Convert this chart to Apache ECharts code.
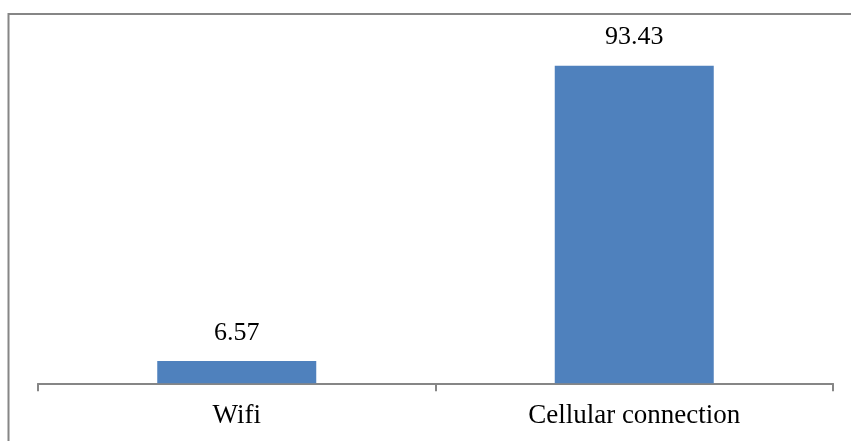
<!DOCTYPE html>
<html>
<head>
<meta charset="utf-8">
<script src="https://cdn.jsdelivr.net/npm/echarts@6/dist/echarts.min.js"></script>
<style>
html,body{margin:0;padding:0;background:#fff;}
#chart{width:851px;height:441px;}
</style>
</head>
<body>
<div id="chart"></div>
<script>
var categories = ['Wifi', 'Cellular connection'];
var values = [6.57, 93.43];

var chart = echarts.init(document.getElementById('chart'), null, {renderer: 'canvas'});
chart.setOption({
  animation: false,
  backgroundColor: '#ffffff',
  graphic: [{
    type: 'rect',
    silent: true,
    shape: {x: 8.5, y: 14, width: 900, height: 500},
    style: {fill: 'none', stroke: '#868686', lineWidth: 2}
  }],
  grid: {left: 38, right: 18, top: 43.3, bottom: 57.7},
  xAxis: {
    type: 'category',
    data: categories,
    boundaryGap: true,
    axisLine: {show: true, lineStyle: {color: '#868686', width: 2}},
    axisTick: {show: true, alignWithLabel: false, length: 8, lineStyle: {color: '#868686', width: 2}},
    axisLabel: {color: '#000', fontFamily: 'Liberation Serif', fontSize: 27, margin: 19}
  },
  yAxis: {
    type: 'value',
    min: 0,
    max: 100,
    show: false,
    splitLine: {show: false}
  },
  series: [{
    type: 'bar',
    data: values,
    barWidth: '40%',
    itemStyle: {color: '#4F81BD'},
    label: {
      show: true,
      position: 'top',
      distance: 15,
      color: '#000',
      fontFamily: 'Liberation Serif',
      fontSize: 26,
      formatter: function (p) { return p.value.toFixed(2); }
    }
  }]
});
</script>
</body>
</html>
